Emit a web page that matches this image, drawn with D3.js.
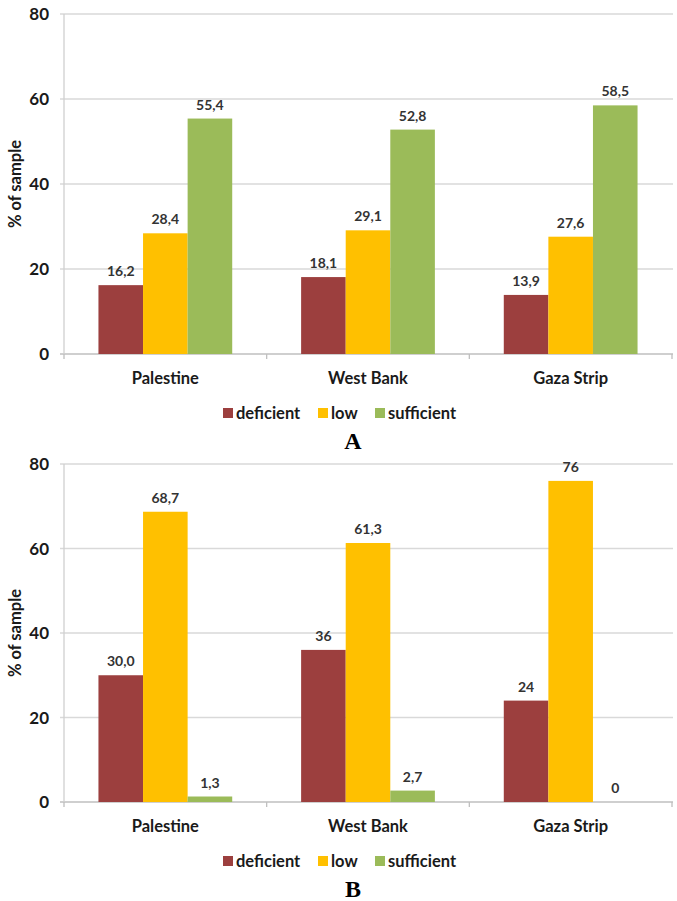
<!DOCTYPE html>
<html><head><meta charset="utf-8">
<script src="https://cdn.jsdelivr.net/npm/d3@7"></script>
<style>body{margin:0;background:#fff}svg{display:block}</style>
</head><body>
<script>
const categories = ["Palestine", "West Bank", "Gaza Strip"];
const seriesNames = ["deficient", "low", "sufficient"];
const seriesColors = ["#9C3F3E", "#FFC000", "#9BBB59"];
const yTicks = [0, 20, 40, 60, 80];

const deficientA = [16.2, 18.1, 13.9];
const lowA = [28.4, 29.1, 27.6];
const sufficientA = [55.4, 52.8, 58.5];
const labelsA = [["16,2", "18,1", "13,9"], ["28,4", "29,1", "27,6"], ["55,4", "52,8", "58,5"]];

const deficientB = [30.0, 36, 24];
const lowB = [68.7, 61.3, 76];
const sufficientB = [1.3, 2.7, 0];
const labelsB = [["30,0", "36", "24"], ["68,7", "61,3", "76"], ["1,3", "2,7", "0"]];

const W = 677, H = 901;
const svg = d3.select("body").append("svg").attr("width", W).attr("height", H);
const font = "Lato, 'Open Sans', sans-serif";

function drawChart(top, bottom, series, labels, letter) {
  const g = svg.append("g");
  const left = 64, right = 672;
  const y = d3.scaleLinear().domain([0, 80]).range([bottom, top]);
  const x0 = d3.scaleBand().domain(categories).range([left, right]).paddingInner(0.34).paddingOuter(0.17);
  const x1 = d3.scaleBand().domain(seriesNames).range([0, x0.bandwidth()]);

  g.selectAll(".grid").data(yTicks).join("line")
    .attr("x1", left - 4).attr("x2", right + 1)
    .attr("y1", d => y(d)).attr("y2", d => y(d))
    .attr("stroke", d => d === 0 ? "#BFBFBF" : "#D9D9D9").attr("stroke-width", 1.3);
  g.append("line").attr("x1", left).attr("x2", left).attr("y1", y(80)).attr("y2", y(0))
    .attr("stroke", "#D0D0D0").attr("stroke-width", 1.3);
  const bounds = [left, ...categories.map(c => x0(c) + x0.bandwidth() / 2 + x0.step() / 2)];
  g.selectAll(".ctick").data(bounds).join("line")
    .attr("x1", d => d).attr("x2", d => d).attr("y1", y(0)).attr("y2", y(0) + 5)
    .attr("stroke", "#BFBFBF").attr("stroke-width", 1.3);

  g.selectAll(".ylab").data(yTicks).join("text")
    .attr("x", 49).attr("y", d => y(d)).attr("dy", "0.36em")
    .attr("text-anchor", "end").attr("font-family", font).attr("font-weight", "bold")
    .attr("font-size", 17).attr("fill", "#1a1a1a").text(d => d);

  g.append("text").attr("transform", `translate(21,${(top + bottom) / 2}) rotate(-90)`)
    .attr("text-anchor", "middle").attr("font-family", font).attr("font-weight", "bold")
    .attr("font-size", 16.5).attr("fill", "#1a1a1a").text("% of sample");

  series.forEach((vals, si) => {
    const sg = g.append("g");
    sg.selectAll("rect").data(vals).join("rect")
      .attr("x", (d, i) => x0(categories[i]) + x1(seriesNames[si]))
      .attr("width", x1.bandwidth())
      .attr("y", d => y(d)).attr("height", d => y(0) - y(d))
      .attr("fill", seriesColors[si]);
    sg.selectAll("text").data(vals).join("text")
      .attr("x", (d, i) => x0(categories[i]) + x1(seriesNames[si]) + x1.bandwidth() / 2)
      .attr("y", d => y(d) - 9)
      .attr("text-anchor", "middle").attr("font-family", font).attr("font-weight", "bold")
      .attr("font-size", 14).attr("fill", "#333")
      .text((d, i) => labels[si][i]);
  });

  g.selectAll(".cat").data(categories).join("text")
    .attr("x", d => x0(d) + x0.bandwidth() / 2).attr("y", y(0) + 24).attr("dy", "0.36em")
    .attr("text-anchor", "middle").attr("font-family", font).attr("font-weight", "bold")
    .attr("font-size", 16.5).attr("fill", "#1a1a1a").text(d => d);

  const legY = y(0) + 59;
  const legX = [223, 318, 375];
  seriesNames.forEach((s, i) => {
    g.append("rect").attr("x", legX[i]).attr("y", legY - 5).attr("width", 10).attr("height", 10).attr("fill", seriesColors[i]);
    g.append("text").attr("x", legX[i] + 13).attr("y", legY).attr("dy", "0.36em")
      .attr("font-family", font).attr("font-weight", "bold").attr("font-size", 16.5)
      .attr("fill", "#1a1a1a").text(s);
  });

  g.append("text").attr("x", 353).attr("y", legY + 27).attr("dy", "0.36em")
    .attr("text-anchor", "middle").attr("font-family", "'Liberation Serif', 'Times New Roman', serif")
    .attr("font-weight", "bold").attr("font-size", 24).attr("fill", "#000").text(letter);
}

drawChart(14, 354, [deficientA, lowA, sufficientA], labelsA, "A");
drawChart(464, 802, [deficientB, lowB, sufficientB], labelsB, "B");
</script>
</body></html>
